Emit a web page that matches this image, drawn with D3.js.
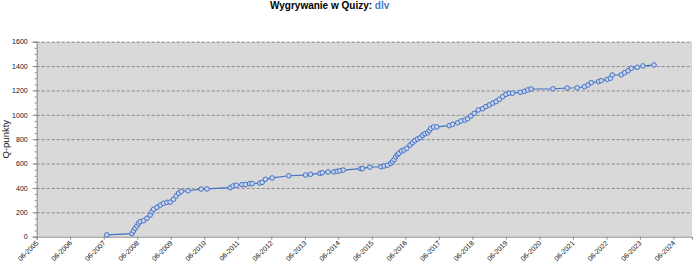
<!DOCTYPE html>
<html>
<head>
<meta charset="utf-8">
<script src="https://cdn.jsdelivr.net/npm/d3@7/dist/d3.min.js"></script>
<style>
  body { margin: 0; background: #fff; }
  svg { display: block; font-family: 'Liberation Sans', Arial, sans-serif; }
</style>
</head>
<body>
<script>
/* global d3 */
var titleText = 'Wygrywanie w Quizy: '
var player = 'dlv'
var yTitle = 'Q-punkty'

var dates = [
  '2007-07-05', '2008-04-04', '2008-04-20', '2008-05-09', '2008-05-28', '2008-06-15',
  '2008-07-03', '2008-08-08', '2008-09-15', '2008-10-20', '2008-11-08', '2008-11-26',
  '2009-01-02', '2009-02-08', '2009-03-14', '2009-04-20', '2009-05-25', '2009-07-01',
  '2009-07-30', '2009-08-25', '2009-09-24', '2009-12-06', '2010-04-29', '2010-07-01',
  '2011-03-11', '2011-04-10', '2011-05-16', '2011-07-17', '2011-08-23', '2011-10-09',
  '2011-11-05', '2012-01-27', '2012-02-22', '2012-03-29', '2012-06-10', '2012-12-09',
  '2013-06-09', '2013-08-02', '2013-11-13', '2013-12-09', '2014-02-09', '2014-04-14',
  '2014-05-20', '2014-06-18', '2014-07-25', '2015-02-01', '2015-02-19', '2015-05-11',
  '2015-09-09', '2015-10-12', '2015-11-18', '2015-12-24', '2016-01-12', '2016-01-30',
  '2016-02-17', '2016-03-06', '2016-03-23', '2016-04-19', '2016-05-17', '2016-06-16',
  '2016-07-22', '2016-08-18', '2016-09-12', '2016-10-11', '2016-11-09', '2016-12-05',
  '2016-12-31', '2017-01-30', '2017-02-16', '2017-03-05', '2017-04-04', '2017-05-10',
  '2017-09-22', '2017-10-29', '2017-12-23', '2018-01-28', '2018-03-11', '2018-04-10',
  '2018-05-16', '2018-06-21', '2018-08-04', '2018-09-22', '2018-10-27', '2018-12-03',
  '2019-01-09', '2019-02-14', '2019-03-21', '2019-04-27', '2019-06-02', '2019-07-08',
  '2019-08-14', '2019-11-06', '2019-12-20', '2020-01-26', '2020-03-02', '2020-10-26',
  '2021-03-30', '2021-07-17', '2021-10-05', '2021-11-12', '2021-12-18', '2022-03-06',
  '2022-04-05', '2022-06-10', '2022-07-15', '2022-08-03', '2022-11-10', '2022-12-16',
  '2023-01-23', '2023-02-28', '2023-05-03', '2023-07-04', '2023-11-02'
]

var points = [
  15, 25, 47, 69, 88, 110,
  123, 131, 151, 178, 205, 225,
  241, 260, 274, 282, 284, 307,
  334, 356, 372, 377, 391, 392,
  402, 416, 422, 427, 428, 435,
  436, 440, 446, 471, 482, 500,
  506, 512, 520, 525, 531, 532,
  537, 541, 547, 558, 560, 571,
  574, 580, 586, 602, 615, 632,
  656, 673, 684, 703, 711, 725,
  752, 771, 788, 802, 812, 832,
  845, 853, 870, 889, 900, 901,
  911, 922, 935, 949, 957, 968,
  990, 1012, 1040, 1050, 1067, 1081,
  1095, 1108, 1127, 1149, 1168, 1177,
  1178, 1185, 1193, 1204, 1212, 1213,
  1220, 1222, 1231, 1245, 1264, 1272,
  1280, 1291, 1300, 1327, 1328, 1346,
  1362, 1382, 1390, 1401, 1409
]

var tickYears = d3.range(2005, 2025)
var yTicks = d3.range(0, 1601, 200)
var yMinorTicks = d3.range(0, 1601, 50)

start()

function start () {
  var width = 693
  var height = 266
  var plot = { left: 36.7, right: 692, top: 41.7, bottom: 236.7 }
  var parse = d3.timeParse('%Y-%m-%d')
  var data = dates.map(function (d, i) {
    return { date: parse(d), value: points[i] }
  })

  var x = d3.scaleTime()
    .domain([new Date(2005, 5, 1), new Date(2024, 11, 20)])
    .range([plot.left, plot.right])
  var y = d3.scaleLinear()
    .domain([0, 1600])
    .range([plot.bottom, plot.top])

  var svg = d3.select('body').append('svg')
    .attr('width', width)
    .attr('height', height)

  // title
  var title = svg.append('text')
    .attr('x', 270)
    .attr('y', 9)
    .style('font-size', '10px')
    .style('font-weight', 'bold')
  title.append('tspan').attr('fill', '#000').text(titleText)
  title.append('tspan').attr('fill', '#4a78cc').text(player)

  svg.append('rect')
    .attr('x', plot.left)
    .attr('y', plot.top)
    .attr('width', plot.right - plot.left)
    .attr('height', plot.bottom - plot.top)
    .style('fill', '#d9d9d9')

  // grid
  svg.append('g')
    .selectAll('line')
    .data(yTicks.filter(function (d) { return d > 0 }))
    .join('line')
    .attr('x1', plot.left)
    .attr('x2', plot.right)
    .attr('y1', function (d) { return y(d) + 0.5 })
    .attr('y2', function (d) { return y(d) + 0.5 })
    .style('stroke', '#888')
    .style('stroke-dasharray', '3,2')
    .style('stroke-width', 1)

  // y axis
  var yMinor = d3.axisLeft(y)
    .tickValues(yMinorTicks)
    .tickSize(2)
    .tickFormat('')
  svg.append('g')
    .attr('transform', 'translate(' + plot.left + ',0)')
    .call(yMinor)
    .call(function (g) { g.select('.domain').remove() })
    .selectAll('line').style('stroke', '#888')

  var yAxis = d3.axisLeft(y)
    .tickValues(yTicks)
    .tickSize(4)
    .tickPadding(5)
    .tickFormat(d3.format('d'))
  var gy = svg.append('g')
    .attr('transform', 'translate(' + plot.left + ',0)')
    .call(yAxis)
  gy.select('.domain').style('stroke', '#888')
  gy.selectAll('line').style('stroke', '#888')
  gy.selectAll('text')
    .style('font-size', '7px')
    .style('font-family', "'Liberation Sans', Arial, sans-serif")
    .attr('fill', '#111')

  svg.append('text')
    .attr('transform', 'translate(9,' + ((plot.top + plot.bottom) / 2) + ') rotate(-90)')
    .attr('text-anchor', 'middle')
    .style('font-size', '9.5px')
    .attr('fill', '#111')
    .text(yTitle)

  // x axis
  var xAxis = d3.axisBottom(x)
    .tickValues(tickYears.map(function (yr) { return new Date(yr, 5, 1) }))
    .tickSize(3)
    .tickFormat(d3.timeFormat('%m-%Y'))
  var gx = svg.append('g')
    .attr('transform', 'translate(0,' + plot.bottom + ')')
    .call(xAxis)
  gx.select('.domain').style('stroke', '#888')
  gx.selectAll('line').style('stroke', '#888')
  gx.selectAll('text')
    .style('font-size', '7px')
    .style('font-family', "'Liberation Sans', Arial, sans-serif")
    .attr('fill', '#111')
    .attr('text-anchor', 'end')
    .attr('transform', 'translate(0,5) rotate(-45)')
    .attr('dy', '0.35em')
    .attr('y', 0)
    .attr('x', 0)

  // series
  var line = d3.line()
    .x(function (d) { return x(d.date) })
    .y(function (d) { return y(d.value) })

  svg.append('path')
    .datum(data)
    .attr('d', line)
    .style('fill', 'none')
    .style('stroke', '#4472c4')
    .style('stroke-width', 1.2)

  svg.append('g')
    .selectAll('circle')
    .data(data)
    .join('circle')
    .attr('cx', function (d) { return x(d.date) })
    .attr('cy', function (d) { return y(d.value) })
    .attr('r', 2.3)
    .style('fill', '#c9d4ec')
    .style('stroke', '#4472c4')
    .style('stroke-width', 1)
}
</script>
</body>
</html>
